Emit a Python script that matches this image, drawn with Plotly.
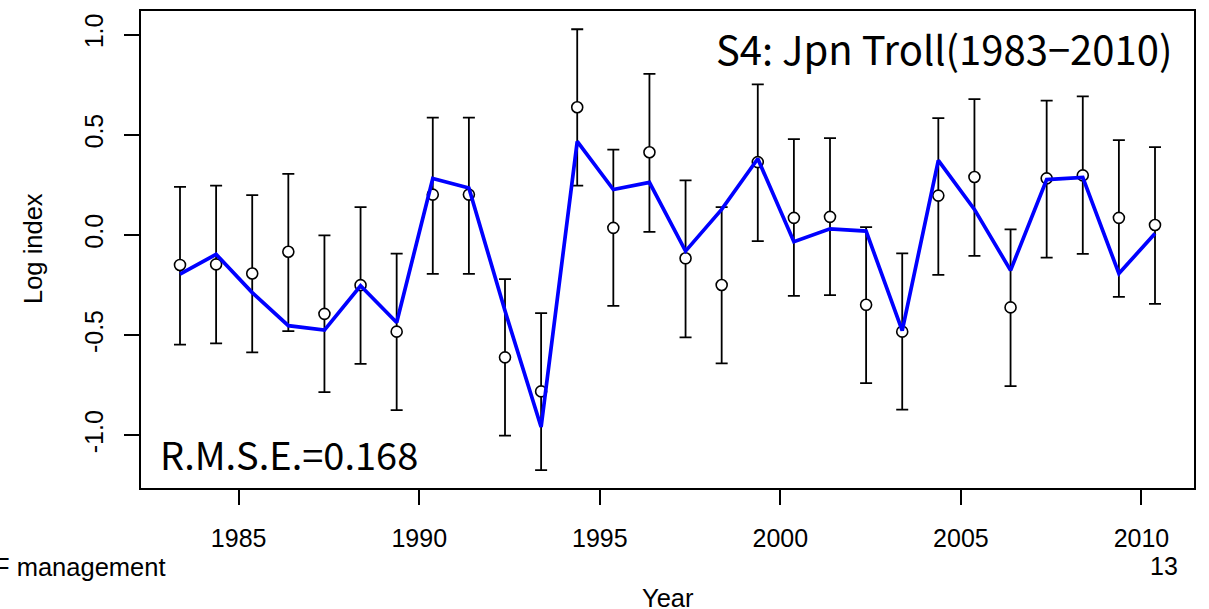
import plotly.graph_objects as go

years = list(range(1983, 2011))
x_offset = 0.375
observed = [-0.149, -0.146, -0.192, -0.083, -0.393, -0.250, -0.482, 0.202, 0.202, -0.610,
            -0.780, 0.638, 0.036, 0.413, -0.116, -0.249, 0.364, 0.086, 0.091, -0.348,
            -0.482, 0.197, 0.290, -0.361, 0.283, 0.298, 0.086, 0.050]
ci_upper = [0.240, 0.247, 0.199, 0.305, -0.002, 0.139, -0.093, 0.586, 0.586, -0.220,
            -0.389, 1.027, 0.426, 0.804, 0.273, 0.139, 0.752, 0.479, 0.484, 0.040,
            -0.091, 0.583, 0.678, 0.028, 0.671, 0.692, 0.474, 0.439]
ci_lower = [-0.547, -0.540, -0.585, -0.479, -0.784, -0.643, -0.873, -0.194, -0.194, -1.001,
            -1.173, 0.247, -0.353, 0.016, -0.510, -0.640, -0.030, -0.303, -0.300, -0.739,
            -0.871, -0.199, -0.104, -0.754, -0.113, -0.094, -0.308, -0.343]
predicted = [-0.195, -0.096, -0.287, -0.452, -0.474, -0.253, -0.436, 0.282, 0.235, -0.378,
             -0.958, 0.467, 0.227, 0.263, -0.080, 0.128, 0.381, -0.033, 0.031, 0.020,
             -0.477, 0.373, 0.128, -0.176, 0.277, 0.288, -0.192, 0.008]
x_ticks = [1985, 1990, 1995, 2000, 2005, 2010]
y_ticks = [-1.0, -0.5, 0.0, 0.5, 1.0]
y_tick_labels = ["-1.0", "-0.5", "0.0", "0.5", "1.0"]

xs = [y + x_offset for y in years]
err_plus = [u - o for u, o in zip(ci_upper, observed)]
err_minus = [o - l for o, l in zip(observed, ci_lower)]

fig = go.Figure()
fig.add_trace(go.Scatter(
    x=xs, y=observed, mode="markers",
    marker=dict(size=11, color="white", line=dict(color="black", width=1.6)),
    error_y=dict(type="data", symmetric=False, array=err_plus, arrayminus=err_minus,
                 color="black", thickness=1.8, width=6),
    showlegend=False,
))
fig.add_trace(go.Scatter(
    x=xs, y=predicted, mode="lines",
    line=dict(color="#0000FF", width=3.7),
    showlegend=False,
))

L, R, T, B = 141, 15, 9, 121
W, H = 1209, 609
pw, ph = W - L - R, H - T - B

def px(xp):
    return (xp - L) / pw

def py(yp):
    return (H - B - yp) / ph

fig.update_layout(
    width=W, height=H,
    margin=dict(l=L, r=R, t=T, b=B, pad=0),
    plot_bgcolor="white", paper_bgcolor="white",
    font=dict(family="Liberation Sans, Arial, sans-serif", size=25, color="black"),
    xaxis=dict(range=[1982.295, 2011.455], tickvals=x_ticks, ticktext=[str(v) for v in x_ticks],
               showgrid=False, zeroline=False, showline=True, mirror=True,
               linecolor="black", linewidth=2, ticks="outside", ticklen=15, tickwidth=2,
               tickcolor="black", ticklabelstandoff=12,
               tickfont=dict(size=25)),
    yaxis=dict(range=[-1.262, 1.118], tickvals=y_ticks, ticktext=y_tick_labels,
               showgrid=False, zeroline=False, showline=True, mirror=True,
               linecolor="black", linewidth=2, ticks="outside", ticklen=15, tickwidth=2,
               tickcolor="black", tickangle=-90, ticklabelstandoff=11,
               tickfont=dict(size=25)),
    annotations=[
        dict(text="Log index", xref="paper", yref="paper", x=px(33), y=py(248),
             textangle=-90, showarrow=False, xanchor="center", yanchor="middle",
             font=dict(size=25.5)),
        dict(text="Year", xref="paper", yref="paper", x=px(668), y=py(598),
             showarrow=False, xanchor="center", yanchor="middle", font=dict(size=25.5)),
        dict(text="F management", xref="paper", yref="paper", x=px(168), y=py(567),
             showarrow=False, xanchor="right", yanchor="middle", font=dict(size=25.5)),
        dict(text="13", xref="paper", yref="paper", x=px(1164), y=py(566),
             showarrow=False, xanchor="center", yanchor="middle", font=dict(size=25)),
        dict(text="S4: Jpn Troll(1983−2010)", xref="paper", yref="paper",
             x=px(1174), y=py(46), showarrow=False, xanchor="right", yanchor="middle",
             font=dict(family="Noto Sans CJK JP", size=40)),
        dict(text="R.M.S.E.=0.168", xref="paper", yref="paper",
             x=px(158), y=py(453), showarrow=False, xanchor="left", yanchor="middle",
             font=dict(family="Noto Sans CJK JP", size=38)),
    ],
)

fig.write_html("out.html", config={"displayModeBar": False},
               post_script="document.body.style.margin='0px';")
